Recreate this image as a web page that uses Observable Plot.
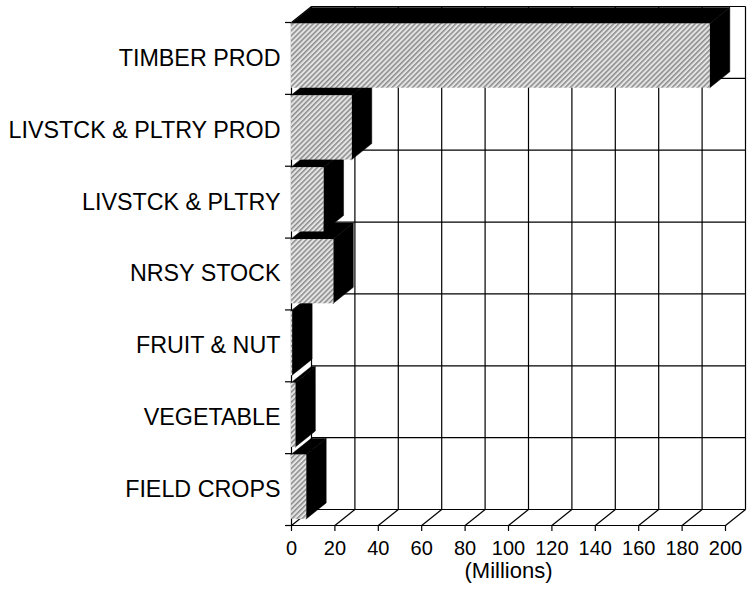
<!DOCTYPE html>
<html>
<head>
<meta charset="utf-8">
<script src="https://cdn.jsdelivr.net/npm/d3@7"></script>
<script src="https://cdn.jsdelivr.net/npm/@observablehq/plot@0.6"></script>
<style>
  html, body { margin: 0; padding: 0; background: #fff; }
  #chart svg { display: block; }
</style>
</head>
<body>
<svg width="0" height="0" style="position:absolute">
  <defs>
    <pattern id="hatch" patternUnits="userSpaceOnUse" width="3.6" height="3.6" patternTransform="rotate(45)">
      <rect width="3.6" height="3.6" fill="#e4e4e4"></rect>
      <line x1="0.8" y1="0" x2="0.8" y2="3.6" stroke="#6a6a6a" stroke-width="1.1"></line>
    </pattern>
  </defs>
</svg>
<div id="chart"></div>
<script>
// ---- data ----
const categories = ["TIMBER PROD", "LIVSTCK & PLTRY PROD", "LIVSTCK & PLTRY", "NRSY STOCK", "FRUIT & NUT", "VEGETABLE", "FIELD CROPS"];
const values = [193, 28, 15, 19.5, 0.5, 2, 7];
const xTicks = [0, 20, 40, 60, 80, 100, 120, 140, 160, 180, 200];
const xLabel = "(Millions)";

// ---- layout ----
const W = 747, H = 593;
const mL = 291, mR = 22, mT = 22, mB = 68;
const xMax = 200, nRows = categories.length;
const depthPx = [20, 16];
const ddx = depthPx[0] * xMax / (W - mL - mR);
const ddy = depthPx[1] * nRows / (H - mT - mB);
const padTop = 0.02, padBot = 0.085;

const bars = categories.map((c, i) => ({c, v: values[i], yt: i + padTop, yb: i + 1 - padBot}));
// draw lower rows first so upper bars overlap them
const order = bars.slice().reverse();

const sides = order.flatMap((b, k) => [
  {id: k, x: b.v, y1: b.yt, y2: b.yb},
  {id: k, x: b.v + ddx, y1: b.yt - ddy, y2: b.yb - ddy}
]);
const tops = order.flatMap((b, k) => [
  {id: k, y: b.yt, x1: 0, x2: b.v},
  {id: k, y: b.yt - ddy, x1: ddx, x2: b.v + ddx}
]);

const rows = d3.range(0, nRows + 1);
const backV = xTicks.map(v => ({x1: v + ddx, y1: -ddy, x2: v + ddx, y2: nRows - ddy}));
const backH = rows.map(p => ({x1: ddx, y1: p - ddy, x2: xMax + ddx, y2: p - ddy}));
const floorD = xTicks.map(v => ({x1: v, y1: nRows, x2: v + ddx, y2: nRows - ddy}));
const frontAxes = [
  {x1: 0, y1: nRows, x2: xMax, y2: nRows},
  {x1: 0, y1: 0, x2: 0, y2: nRows},
  {x1: 0, y1: 0, x2: ddx, y2: -ddy}
];

const lineOpts = {x1: "x1", y1: "y1", x2: "x2", y2: "y2", stroke: "black", strokeWidth: 1.2};

const chart = Plot.plot({
  width: W,
  height: H,
  marginLeft: mL,
  marginRight: mR,
  marginTop: mT,
  marginBottom: mB,
  style: {fontFamily: "'Liberation Sans', Arial, Helvetica, sans-serif", color: "black", background: "white"},
  x: {domain: [0, xMax], axis: null},
  y: {domain: [0, nRows], reverse: true, axis: null},
  marks: [
    Plot.link(backV, lineOpts),
    Plot.link(backH, lineOpts),
    Plot.link(floorD, lineOpts),
    Plot.link(frontAxes, lineOpts),
    Plot.areaX(tops, {y: "y", x1: "x1", x2: "x2", z: "id", fill: "black", stroke: "black", strokeWidth: 0.5}),
    Plot.areaY(sides, {x: "x", y1: "y1", y2: "y2", z: "id", fill: "black", stroke: "black", strokeWidth: 0.5}),
    Plot.rect(order, {x1: () => 0, x2: "v", y1: "yt", y2: "yb", fill: "url(#hatch)"}),
    Plot.axisX(xTicks, {anchor: "bottom", tickSize: 6, tickPadding: 9, fontSize: 20, label: null, strokeWidth: 1.2}),
    Plot.axisY(rows, {anchor: "left", tickSize: 6, tickFormat: () => "", label: null, strokeWidth: 1.2}),
    Plot.text(categories, {frameAnchor: "left", y: (d, i) => i + 0.5, text: d => d, textAnchor: "end", dx: -11, fontSize: 23.3}),
    Plot.text([xLabel], {frameAnchor: "bottom", x: () => xMax / 2, text: d => d, dy: 52.5, fontSize: 22, textAnchor: "middle"})
  ]
});
document.getElementById("chart").appendChild(chart);
</script>
</body>
</html>
